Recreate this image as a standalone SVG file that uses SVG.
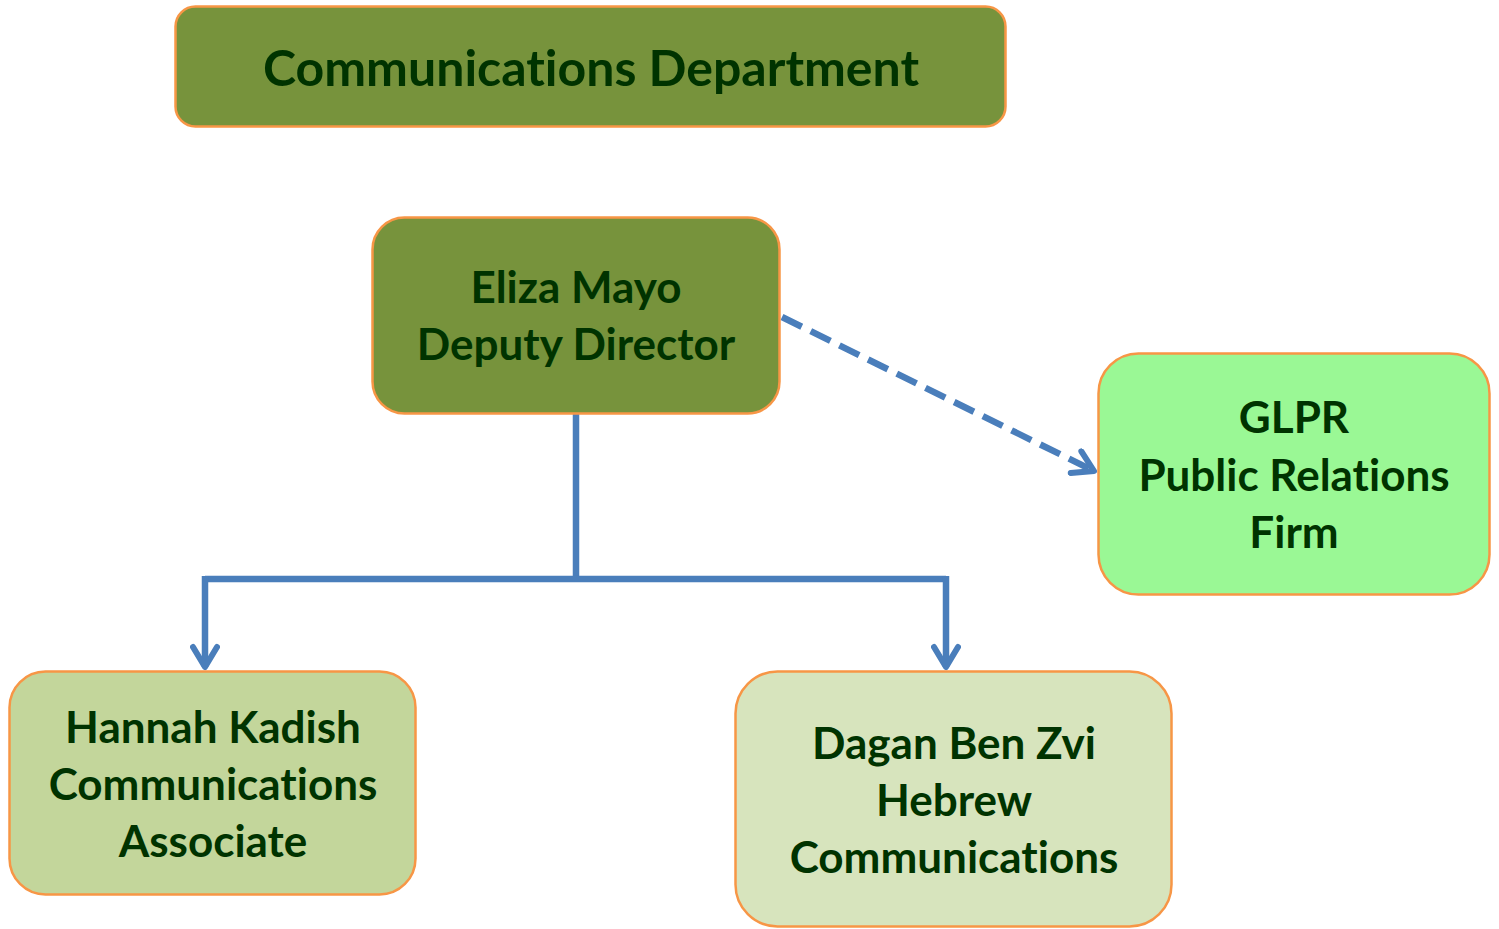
<svg xmlns="http://www.w3.org/2000/svg" width="1499" height="929" viewBox="0 0 1499 929">
<defs>
<style>
.box{stroke:#F79646;stroke-width:2.5}
.t{font-family:Lato,"Open Sans","Liberation Sans",sans-serif;font-weight:bold;fill:#003300;text-anchor:middle;font-variant-ligatures:none}
.tt{font-size:50px}
.tn{font-size:44px}
.con{fill:none;stroke:#4A7EBB;stroke-width:6.5}
</style>
<marker id="arrb" viewBox="0 0 30 30" refX="26" refY="15" markerWidth="30" markerHeight="30" markerUnits="userSpaceOnUse" orient="auto">
<path d="M6,3 L26,15 L6,27" fill="none" stroke="#4A7EBB" stroke-width="6" stroke-linecap="round" stroke-linejoin="round"/>
</marker>
</defs>
<rect width="1499" height="929" fill="#FFFFFF"/>
<g id="connectors">
<path class="con" d="M576,413 V579"/>
<path class="con" d="M205,579 H946"/>
<path class="con" d="M205,576 V667" marker-end="url(#arrb)"/>
<path class="con" d="M946,576 V667" marker-end="url(#arrb)"/>
<path class="con" d="M782,317 L1094,471" stroke-dasharray="22,10" marker-end="url(#arrb)"/>
</g>
<g id="title">
<rect class="box" x="175.5" y="6.5" width="830" height="120" rx="20" fill="#77933C"/>
<text class="t tt" x="591" y="86">Communications Department</text>
</g>
<g id="eliza">
<rect class="box" x="372.5" y="217.5" width="407" height="196" rx="32" fill="#77933C"/>
<text class="t tn" x="576" y="303">Eliza Mayo</text>
<text class="t tn" x="576" y="360">Deputy Director</text>
</g>
<g id="glpr">
<rect class="box" x="1098.5" y="353.5" width="391" height="241" rx="40" fill="#9AF895"/>
<text class="t tn" x="1294" y="433">GLPR</text>
<text class="t tn" x="1294" y="491">Public Relations</text>
<text class="t tn" x="1294" y="548">Firm</text>
</g>
<g id="hannah">
<rect class="box" x="9.5" y="671.5" width="406" height="223" rx="36" fill="#C3D69B"/>
<text class="t tn" x="213" y="743">Hannah Kadish</text>
<text class="t tn" x="213" y="800">Communications</text>
<text class="t tn" x="213" y="857">Associate</text>
</g>
<g id="dagan">
<rect class="box" x="735.5" y="671.5" width="436" height="255" rx="42" fill="#D7E4BD"/>
<text class="t tn" x="954" y="759">Dagan Ben Zvi</text>
<text class="t tn" x="954" y="816">Hebrew</text>
<text class="t tn" x="954" y="873">Communications</text>
</g>
</svg>
